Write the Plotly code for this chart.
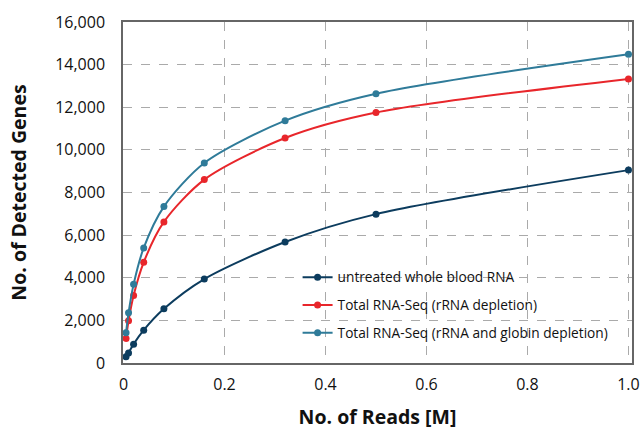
import plotly.graph_objects as go

reads = [0.005, 0.01, 0.02, 0.04, 0.08, 0.16, 0.32, 0.5, 1.0]
untreated = [290, 475, 885, 1540, 2540, 3940, 5680, 6985, 9050]
rrna_depl = [1150, 1980, 3170, 4725, 6620, 8605, 10555, 11750, 13330]
rrna_globin_depl = [1415, 2355, 3690, 5400, 7340, 9385, 11370, 12635, 14485]

names = ["untreated whole blood RNA",
         "Total RNA-Seq (rRNA depletion)",
         "Total RNA-Seq (rRNA and globin depletion)"]
colors = ["#0c3c5e", "#e8262b", "#2f7b99"]

x_ticks = [0, 0.2, 0.4, 0.6, 0.8, 1.0]
x_ticktext = ["0", "0.2", "0.4", "0.6", "0.8", "1.0"]
y_ticks = [0, 2000, 4000, 6000, 8000, 10000, 12000, 14000, 16000]

fig = go.Figure()
for i, (ys, nm, c) in enumerate(zip([untreated, rrna_depl, rrna_globin_depl], names, colors)):
    fig.add_trace(go.Scatter(
        x=reads, y=ys, name=nm, mode="lines+markers", legendgroup=f"g{i}",
        line=dict(color=c, width=2, shape="spline", smoothing=0.8),
        marker=dict(color=c, size=7),
    ))

font = "Open Sans, Noto Sans, sans-serif"
fig.update_layout(
    width=644, height=430,
    margin=dict(l=123, r=12, t=22, b=67),
    paper_bgcolor="white", plot_bgcolor="white",
    font=dict(family=font, color="#111"),
    showlegend=True,
    legend=dict(x=0.343, y=0.297, xanchor="left", yanchor="top",
                bgcolor="rgba(0,0,0,0)", font=dict(size=13.7, color="#111"),
                traceorder="grouped", tracegroupgap=7, itemwidth=30),
)
fig.update_xaxes(
    range=[-0.001, 1.007], tickvals=x_ticks, ticktext=x_ticktext,
    showline=True, linecolor="#666", linewidth=1.5, mirror=True,
    showgrid=True, gridcolor="#aaaaaa", griddash="dash", gridwidth=1,
    zeroline=False, ticks="", tickfont=dict(size=16), ticklabelstandoff=6,
    automargin=False,
    title=dict(text="<b>No. of Reads [M]</b>", font=dict(size=19.5), standoff=43),
)
fig.update_yaxes(
    range=[0, 16000], tickvals=y_ticks, tickformat=",d",
    showline=True, linecolor="#666", linewidth=1.5, mirror=True,
    showgrid=True, gridcolor="#aaaaaa", griddash="dash", gridwidth=1,
    zeroline=False, ticks="", tickfont=dict(size=16), ticklabelstandoff=13,
    automargin=False,
    title=dict(text="<b>No. of Detected Genes</b>", font=dict(size=19.5), standoff=23),
)
# remove the default 8px page margin so the 644x430 figure fills the window
fig.write_html("out.html",
               config={"displayModeBar": False},
               post_script="document.body.style.margin='0';document.body.style.overflow='hidden';")
